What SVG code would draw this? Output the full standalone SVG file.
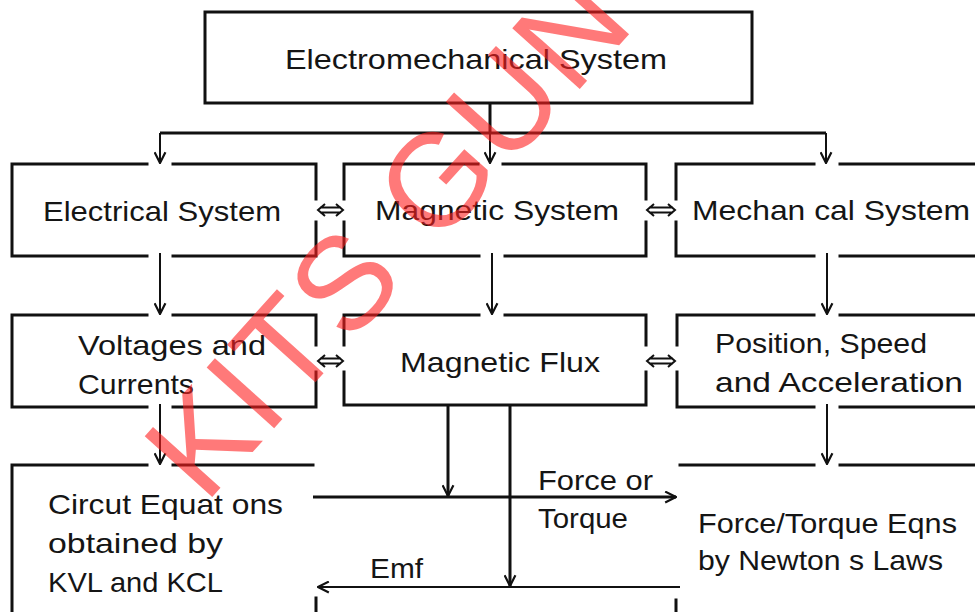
<svg xmlns="http://www.w3.org/2000/svg" width="975" height="612" viewBox="0 0 975 612">
<defs>
<style>
.box{fill:none;stroke:#111;stroke-width:3;stroke-linecap:square}
.ln{fill:none;stroke:#111;stroke-width:2}
.lnb{fill:none;stroke:#111;stroke-width:3}
.t{font-family:"Liberation Sans","DejaVu Sans",sans-serif;font-size:28px;fill:#151515}
.wm{font-family:"Liberation Sans",Arial,sans-serif;font-size:132px;letter-spacing:3px;fill:#ff2020;fill-opacity:0.6}
</style>
<marker id="ah" viewBox="0 0 12 12" refX="11" refY="6" markerWidth="13" markerHeight="13" markerUnits="userSpaceOnUse" orient="auto">
<path d="M1,1 L11,6 L1,11" fill="none" stroke="#111" stroke-width="2"/>
</marker>
</defs>
<rect width="975" height="612" fill="#fff"/>

<g id="n-top">
<rect class="box" x="205" y="12" width="547" height="91"/>
<text class="t" x="285" y="69" textLength="382" lengthAdjust="spacingAndGlyphs">Electromechanical System</text>
</g>

<g id="n-elec">
<path class="box" d="M147,164 H12 V256 H147 M173,256 H316 V222 M316,199 V164 H173"/>
<text class="t" x="43" y="221" textLength="238" lengthAdjust="spacingAndGlyphs">Electrical System</text>
</g>

<g id="n-mag">
<path class="box" d="M478,164 H344 V199 M344,222 V256 H479 M505,256 H646 V222 M646,199 V164 H503"/>
<text class="t" x="375" y="220" textLength="244" lengthAdjust="spacingAndGlyphs">Magnetic System</text>
</g>

<g id="n-mech">
<path class="box" d="M814,164 H676 V199 M676,222 V256 H814 M840,256 H985 M840,164 H985"/>
<text class="t" x="692" y="220" textLength="278" lengthAdjust="spacingAndGlyphs">Mechan cal System</text>
</g>

<g id="n-volt">
<path class="box" d="M147,315 H12 V407 H147 M173,407 H316 V372 M316,345 V315 H173"/>
<text class="t" x="78" y="355" textLength="188" lengthAdjust="spacingAndGlyphs">Voltages and</text>
<text class="t" x="78" y="394" textLength="116" lengthAdjust="spacingAndGlyphs">Currents</text>
</g>

<g id="n-flux">
<path class="box" d="M479,315 H344 V345 M344,372 V405 H646 V372 M646,345 V315 H505"/>
<text class="t" x="400" y="372" textLength="200" lengthAdjust="spacingAndGlyphs">Magnetic Flux</text>
</g>

<g id="n-pos">
<path class="box" d="M814,315 H677 V345 M677,372 V407 H814 M840,407 H985 M840,315 H985"/>
<text class="t" x="715" y="353" textLength="212" lengthAdjust="spacingAndGlyphs">Position, Speed</text>
<text class="t" x="715" y="392" textLength="248" lengthAdjust="spacingAndGlyphs">and Acceleration</text>
</g>

<g id="n-circ">
<path class="box" d="M147,465 H12 V615 M173,465 H313 M316,598 V615"/>
<text class="t" x="48" y="514" textLength="235" lengthAdjust="spacingAndGlyphs">Circut Equat ons</text>
<text class="t" x="48" y="553" textLength="175" lengthAdjust="spacingAndGlyphs">obtained by</text>
<text class="t" x="48" y="592" textLength="175" lengthAdjust="spacingAndGlyphs">KVL and KCL</text>
</g>

<g id="n-force">
<path class="box" d="M680,465 H814 M840,465 H985 M676,600 V615"/>
<text class="t" x="698" y="533" textLength="259" lengthAdjust="spacingAndGlyphs">Force/Torque Eqns</text>
<text class="t" x="698" y="570" textLength="245" lengthAdjust="spacingAndGlyphs">by Newton s Laws</text>
</g>

<g id="connectors">
<path class="lnb" d="M490,103 V133"/>
<path class="lnb" d="M160,133 H826"/>
<path class="ln" d="M160,133 V163" marker-end="url(#ah)"/>
<path class="ln" d="M490,133 V163" marker-end="url(#ah)"/>
<path class="ln" d="M826,133 V163" marker-end="url(#ah)"/>
<path class="ln" d="M160,253 V314" marker-end="url(#ah)"/>
<path class="ln" d="M492,253 V314" marker-end="url(#ah)"/>
<path class="ln" d="M827,253 V314" marker-end="url(#ah)"/>
<path class="ln" d="M160,404 V464" marker-end="url(#ah)"/>
<path class="ln" d="M827,404 V464" marker-end="url(#ah)"/>
<path class="lnb" d="M448,405 V496" marker-end="url(#ah)"/>
<path class="lnb" d="M313,497 H676" marker-end="url(#ah)"/>
<path class="lnb" d="M510,405 V586" marker-end="url(#ah)"/>
<path class="ln" d="M680,587 H318" marker-end="url(#ah)"/>
<text class="t" x="538" y="490" textLength="115" lengthAdjust="spacingAndGlyphs">Force or</text>
<text class="t" x="538" y="528" textLength="90" lengthAdjust="spacingAndGlyphs">Torque</text>
<text class="t" x="370" y="578" textLength="53" lengthAdjust="spacingAndGlyphs">Emf</text>
<g fill="none" stroke="#111" stroke-width="2">
<path d="M325,204 L318,210 L325,216 M336,204 L343,210 L336,216 M320,207.5 H341 M320,212.5 H341"/>
<path d="M654,204 L647,210 L654,216 M668,204 L675,210 L668,216 M649,207.5 H673 M649,212.5 H673"/>
<path d="M325,355 L318,361 L325,367 M336,355 L343,361 L336,367 M320,358.5 H341 M320,363.5 H341"/>
<path d="M654,355 L647,361 L654,367 M668,355 L675,361 L668,367 M649,358.5 H673 M649,363.5 H673"/>
</g>
</g>

<text class="wm" x="205" y="505" transform="rotate(-48 205 505)">KITS GUNTUR</text>
</svg>
